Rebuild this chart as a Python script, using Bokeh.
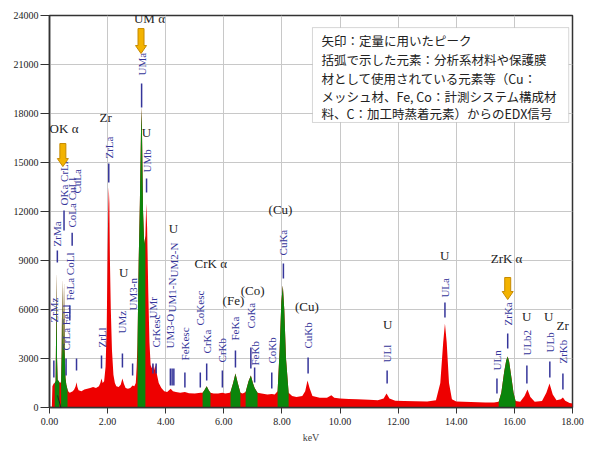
import math
import numpy as np
from bokeh.plotting import figure
from bokeh.models import (FixedTicker, PrintfTickFormatter, Label, Range1d,
                          BoxAnnotation, Arrow, ColumnDataSource)
from bokeh.embed import file_html
from bokeh.resources import INLINE
from bokeh.core.properties import value

# ---- EDX spectrum (energy in keV, counts) ----
energy_kev = [
    0.00, 0.08, 0.10, 0.14, 0.18, 0.21, 0.23, 0.245, 0.26, 0.28, 0.30, 0.32, 0.34, 0.37,
    0.40, 0.42, 0.44, 0.46, 0.48, 0.50, 0.52, 0.55, 0.58, 0.62, 0.66, 0.70, 0.75, 0.80,
    0.85, 0.90, 0.93, 0.96, 1.00, 1.10, 1.20, 1.30, 1.40, 1.50, 1.60, 1.70, 1.75, 1.79,
    1.83, 1.88, 1.93, 1.97, 2.00, 2.02, 2.04, 2.06, 2.08, 2.11, 2.15, 2.20, 2.25, 2.30,
    2.38, 2.45, 2.51, 2.56, 2.62, 2.70, 2.78, 2.86, 2.92, 2.97, 3.00, 3.03, 3.07, 3.11,
    3.15, 3.17, 3.19, 3.22, 3.26, 3.30, 3.33, 3.36, 3.40, 3.44, 3.48, 3.52, 3.56, 3.60,
    3.65, 3.70, 3.76, 3.85, 3.95, 4.05, 4.17, 4.25, 4.35, 4.50, 4.66, 4.80, 5.00, 5.20,
    5.27, 5.33, 5.41, 5.48, 5.54, 5.65, 5.80, 5.95, 6.05, 6.20, 6.23, 6.32, 6.40, 6.48,
    6.57, 6.65, 6.75, 6.85, 6.93, 7.00, 7.06, 7.16, 7.30, 7.50, 7.65, 7.75, 7.85, 7.92,
    7.98, 8.03, 8.08, 8.14, 8.23, 8.35, 8.50, 8.70, 8.80, 8.88, 8.95, 9.05, 9.30, 9.55,
    9.70, 9.80, 10.00, 10.30, 10.60, 11.00, 11.30, 11.50, 11.60, 11.70, 11.90, 12.20,
    12.60, 13.00, 13.30, 13.45, 13.55, 13.61, 13.67, 13.75, 13.85, 14.00, 14.50, 15.00,
    15.30, 15.46, 15.55, 15.65, 15.72, 15.77, 15.82, 15.90, 15.97, 16.04, 16.20, 16.35,
    16.45, 16.55, 16.70, 16.95, 17.10, 17.21, 17.32, 17.45, 17.60, 17.67, 17.75, 17.90,
    18.00,
]
counts = [
    0, 0, 1300, 1450, 1500, 1600, 5000, 8300, 3000, 1700, 1650, 1600, 1550, 1500,
    1600, 3500, 7900, 3000, 4000, 7700, 3500, 1800, 1400, 1100, 950, 900, 950, 1000,
    1100, 1300, 1550, 1250, 1050, 1000, 1100, 1150, 1200, 1250, 1200, 1300, 1500, 1780,
    1500, 1600, 2500, 5000, 9500, 12000, 13500, 12500, 9000, 6000, 3500, 2000, 1500, 1300,
    1250, 1400, 1780, 1450, 1200, 1150, 1200, 1350, 1300, 1500, 2500, 4000, 9000, 12500,
    17000, 18400, 16000, 12000, 10000, 10500, 12500, 11000, 7000, 4000, 2600, 2400, 2700, 2300,
    2600, 2000, 1500, 1200, 1000, 950, 1150, 1000, 950, 900, 950, 870, 850, 900,
    900, 1050, 1300, 1050, 900, 850, 850, 900, 850, 900, 950, 1500, 2080, 1500,
    900, 850, 950, 1600, 1960, 1500, 1200, 900, 850, 800, 820, 800, 1000, 3500,
    6500, 7470, 6000, 3000, 900, 700, 650, 700, 1000, 1650, 1200, 700, 600, 600,
    750, 600, 550, 520, 500, 480, 450, 550, 850, 550, 420, 400,
    380, 370, 450, 1500, 4000, 5140, 4000, 1500, 500, 360, 330, 310,
    300, 350, 900, 2200, 2900, 3120, 2800, 1800, 900, 400, 350, 700,
    1100, 650, 350, 400, 900, 1470, 800, 450, 500, 610, 420, 280,
    250,
]

# energy windows used for quantification (drawn in green)
window_lo = [0.18, 0.40, 3.03, 5.27, 6.23, 6.75, 7.85, 15.46]
window_hi = [0.34, 0.62, 3.30, 5.54, 6.57, 7.16, 8.23, 16.04]

# ---- line markers: energy, name ----
marker_kev = [0.15, 0.27, 0.50, 0.57, 0.70, 0.78, 0.93, 1.79, 2.04, 2.51, 2.86, 3.17,
              3.34, 3.56, 3.67, 4.16, 4.22, 4.28, 4.66, 5.19, 5.41, 5.95, 6.40, 6.93,
              7.06, 7.65, 8.05, 8.90, 11.62, 13.61, 15.40, 15.77, 16.43, 17.22, 17.67]
marker_name = ["ZrMz", "ZrMa", "OKa CrLl", "CrLa FeLl", "FeLa CoLl", "CoLa CuLl", "CuLa",
               "ZrLl", "ZrLa", "UMz", "UM3-n", "UMa", "UMb", "UMr", "CrKesc",
               "UM3-O", "UM1-N", "UM2-N", "FeKesc", "CoKesc", "CrKa", "CrKb", "FeKa",
               "CoKa", "FeKb", "CoKb", "CuKa", "CuKb", "ULl", "ULa", "ULn", "ZrKa",
               "ULb2", "ULb", "ZrKb"]
# marker tick extent and label base (counts)
marker_lo = [1840, 8880, 10840, 1960, 5330, 9900, 2270, 2390, 13780, 2450, 1960, 18370,
             13160, 2080, 2080, 1350, 1350, 1350, 1220, 1220, 1650, 1220, 2450, 2390,
             1530, 1160, 7900, 2080, 1470, 5510, 860, 3610, 1470, 1840, 1100]
marker_hi = [2880, 9610, 12060, 3000, 6240, 10700, 3000, 3180, 14940, 3310, 2690, 19840,
             14020, 2690, 2690, 2390, 2390, 2390, 2140, 2140, 2690, 2270, 3490, 3670,
             2450, 2140, 8820, 3060, 2270, 6430, 1780, 4530, 2570, 2820, 2080]
marker_text_y = [5200, 9860, 12370, 3490, 6550, 11020, 13100, 3670, 15240, 4530, 5940,
                 20330, 14390, 5450, 3670, 3610, 5820, 7960, 2880, 5020, 3310, 2760,
                 4100, 4840, 2570, 2690, 9310, 3610, 2760, 6730, 2270, 5020, 3180, 3370,
                 2690]

# ---- element annotations ----
elem_text = ["UM α", "Zr", "U", "OK α", "U", "U", "CrK α", "(Cu)", "(Fe)", "(Co)", "(Cu)",
             "U", "U", "ZrK α", "U", "U", "Zr"]
elem_kev = [3.44, 1.93, 3.34, 0.50, 2.55, 4.27, 5.55, 7.95, 6.33, 6.99, 8.86,
            11.64, 13.60, 15.73, 16.42, 17.18, 17.66]
elem_y = [23820, 17750, 16840, 17080, 8270, 10960, 8820, 12120, 6550, 7160, 6180,
          5080, 9310, 9120, 5570, 5570, 5020]

# arrows marking peaks used for quantification: x, top, tip
arrow_kev = [3.15, 0.46, 15.77]
arrow_top = [23200, 16160, 7960]
arrow_tip = [21670, 14750, 6610]

note_lines = [
    "矢印：定量に用いたピーク",
    "括弧で示した元素：分析系材料や保護膜",
    "材として使用されている元素等（Cu：",
    "メッシュ材、Fe, Co：計測システム構成材",
    "料、C：加工時蒸着元素）からのEDX信号",
]

RED = "#ee0000"
GREEN = "#0b850b"
BLUE = "#35359a"
SERIF = "Liberation Serif"

p = figure(width=589, height=450, output_backend="svg", toolbar_location=None,
           x_range=Range1d(0, 18), y_range=Range1d(0, 24000),
           min_border_left=49, min_border_right=17, min_border_top=15,
           min_border_bottom=43, background_fill_color="white",
           border_fill_color="white")

p.outline_line_color = "#333333"
p.outline_line_width = 1.5
p.xgrid.grid_line_color = "#c8c8c8"
p.ygrid.grid_line_color = "#c8c8c8"

p.xaxis.ticker = FixedTicker(ticks=list(range(0, 19, 2)))
p.xaxis.formatter = PrintfTickFormatter(format="%.2f")
p.yaxis.ticker = FixedTicker(ticks=list(range(0, 24001, 3000)))
p.yaxis.formatter = PrintfTickFormatter(format="%d")
for ax in (p.xaxis[0], p.yaxis[0]):
    ax.axis_line_color = "#333333"
    ax.axis_line_width = 1.5
    ax.major_tick_line_color = "#333333"
    ax.major_tick_in = 0
    ax.minor_tick_line_color = None
    ax.major_label_text_font = SERIF
    ax.major_label_text_font_size = "10px"
    ax.major_label_text_color = "#222222"
p.xaxis.major_tick_out = 6
p.xaxis.major_label_standoff = 4
p.xaxis.axis_label = "keV"
p.xaxis.axis_label_text_font = SERIF
p.xaxis.axis_label_text_font_size = "10px"
p.xaxis.axis_label_text_font_style = "normal"
p.xaxis.axis_label_standoff = 4
p.yaxis.major_tick_out = 9
p.yaxis.major_label_standoff = 2

# spectrum
E = np.array(energy_kev)
C = np.array(counts)
p.varea(x=E, y1=0, y2=C, fill_color=RED)
for lo, hi in zip(window_lo, window_hi):
    m = (E >= lo) & (E <= hi)
    p.varea(x=E[m], y1=0, y2=C[m], fill_color=GREEN)

# line markers
msrc = ColumnDataSource(dict(x=marker_kev, lo=marker_lo, hi=marker_hi,
                             ty=marker_text_y, name=marker_name))
p.segment(x0="x", y0="lo", x1="x", y1="hi", source=msrc, line_color=BLUE, line_width=1.5)
p.text(x="x", y="ty", text="name", source=msrc, angle=math.pi / 2,
       text_align="left", text_baseline="middle", text_color=BLUE,
       text_font=value(SERIF), text_font_size="11px")

# arrows (shaft 6 px wide, head 11 px wide)
kev_per_px = 18 / 523.0
cnt_per_px = 24000 / 392.0
xs, ys = [], []
for x, top, tip in zip(arrow_kev, arrow_top, arrow_tip):
    hs = 3 * kev_per_px
    hh = 5.5 * kev_per_px
    neck = tip + 8 * cnt_per_px
    xs.append([x - hs, x + hs, x + hs, x + hh, x, x - hh, x - hs])
    ys.append([top, top, neck, neck, tip, neck, neck])
p.patches(xs, ys, fill_color="#f3b300", line_color="#c68a00", line_width=1)

# element labels
for t, x, y in zip(elem_text, elem_kev, elem_y):
    p.add_layout(Label(x=x, y=y, text=t, text_align="center", text_baseline="middle",
                       text_font=SERIF, text_font_size="13px", text_color="#222222"))

# carbon label below the axis with its leader
p.add_layout(Label(x=0.77, y=-980, text="(C)", text_align="center", text_baseline="middle",
                   text_font=SERIF, text_font_size="13px", text_color="#222222"))
p.add_layout(Arrow(end=None, x_start=0.275, y_start=740, x_end=0.50, y_end=-680,
                   line_color="#222222", line_width=1))

# axis title and sample id
p.add_layout(Label(x=0, y=12000, x_offset=-37, text="Counts", angle=math.pi / 2,
                   text_align="center", text_baseline="middle", text_font=SERIF,
                   text_font_size="11px", text_color="#222222"))
p.add_layout(Label(x=0.17, y=24000, y_offset=10, text="049", text_align="center",
                   text_baseline="middle", text_font="DejaVu Sans", text_font_size="8px",
                   text_color="#222222"))

# note box
p.add_layout(BoxAnnotation(left=9.05, right=17.87, bottom=17450, top=23260,
                           fill_color="white", fill_alpha=1.0, line_color="#777777",
                           line_width=1))
note_y = [22470, 21300, 20140, 19040, 18000]
for t, y in zip(note_lines, note_y):
    p.add_layout(Label(x=9.36, y=y, text=t, text_align="left", text_baseline="middle",
                       text_font="Noto Sans CJK JP", text_font_size="12.5px",
                       text_color="#222222"))

open("out.html", "w").write(file_html(p, INLINE))
